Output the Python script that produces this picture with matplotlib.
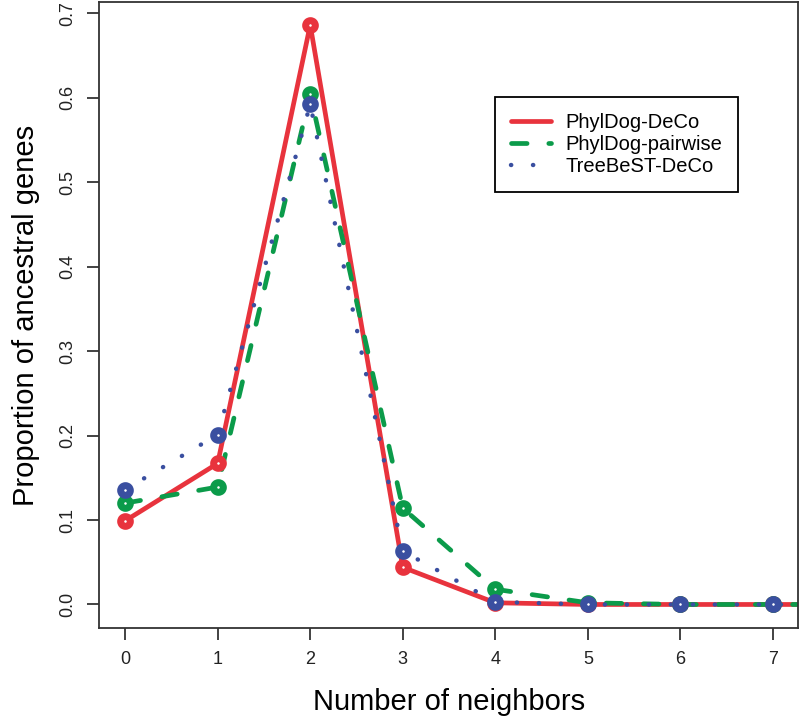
import matplotlib.pyplot as plt

plt.rcParams['font.family'] = ['Liberation Sans', 'DejaVu Sans']

neighbors = [0, 1, 2, 3, 4, 5, 6, 7, 8]
phyldog_deco = [0.099, 0.167, 0.686, 0.044, 0.002, 0.000, 0.000, 0.000, 0.000]
phyldog_pairwise = [0.120, 0.139, 0.604, 0.114, 0.018, 0.002, 0.000, 0.000, 0.000]
treebest_deco = [0.136, 0.201, 0.592, 0.063, 0.003, 0.000, 0.000, 0.000, 0.000]

red = '#E8333D'
green = '#0B9B4A'
blue = '#3A4FA0'

fig = plt.figure(figsize=(8, 7.27), dpi=100)
ax = fig.add_axes([0.124, 0.136, 0.8735, 0.861])

ms, mew = 7, 5

l1, = ax.plot(neighbors, phyldog_deco, color=red, lw=3.4, solid_capstyle='round',
              label='PhylDog-DeCo')
l2, = ax.plot(neighbors, phyldog_pairwise, color=green, lw=3.4, dashes=(3.3, 4.6),
              dash_capstyle='round', label='PhylDog-pairwise')
l3, = ax.plot(neighbors, treebest_deco, color=blue, lw=3.2, dashes=(0.05, 4.9),
              dash_capstyle='round', label='TreeBeST-DeCo')

# open circles like R's pch=1 with thick lwd
for ys, c in [(phyldog_deco, red), (phyldog_pairwise, green), (treebest_deco, blue)]:
    ax.plot(neighbors, ys, ls='none', marker='o', ms=ms, mew=mew,
            mec=c, mfc='white', zorder=3)

ax.set_xlim(-0.28, 7.27)
ax.set_ylim(-0.028, 0.713)
ax.set_xticks(range(8))
ax.set_yticks([0.0, 0.1, 0.2, 0.3, 0.4, 0.5, 0.6, 0.7])
ax.set_yticklabels(['0.0', '0.1', '0.2', '0.3', '0.4', '0.5', '0.6', '0.7'],
                   rotation=90, va='center')
ax.tick_params(direction='out', length=8.6, width=1.2, labelsize=13, pad=8,
               colors='#222222')

for s in ax.spines.values():
    s.set_linewidth(1.3)
    s.set_color('#333333')

ax.set_xlabel('Number of neighbors', fontsize=21, labelpad=14)
ax.set_ylabel('Proportion of ancestral genes', fontsize=21, labelpad=14)

leg = ax.legend(handles=[l1, l2, l3], loc='upper left',
                bbox_to_anchor=(495 / 800, 1 - 97 / 727),
                bbox_transform=fig.transFigure, borderaxespad=0,
                fontsize=14.5, fancybox=False, framealpha=1, edgecolor='black',
                handlelength=2.0, handletextpad=0.7, borderpad=0.8,
                labelspacing=0.15)
leg.get_frame().set_linewidth(1.3)

plt.savefig('out.png', dpi=100)
